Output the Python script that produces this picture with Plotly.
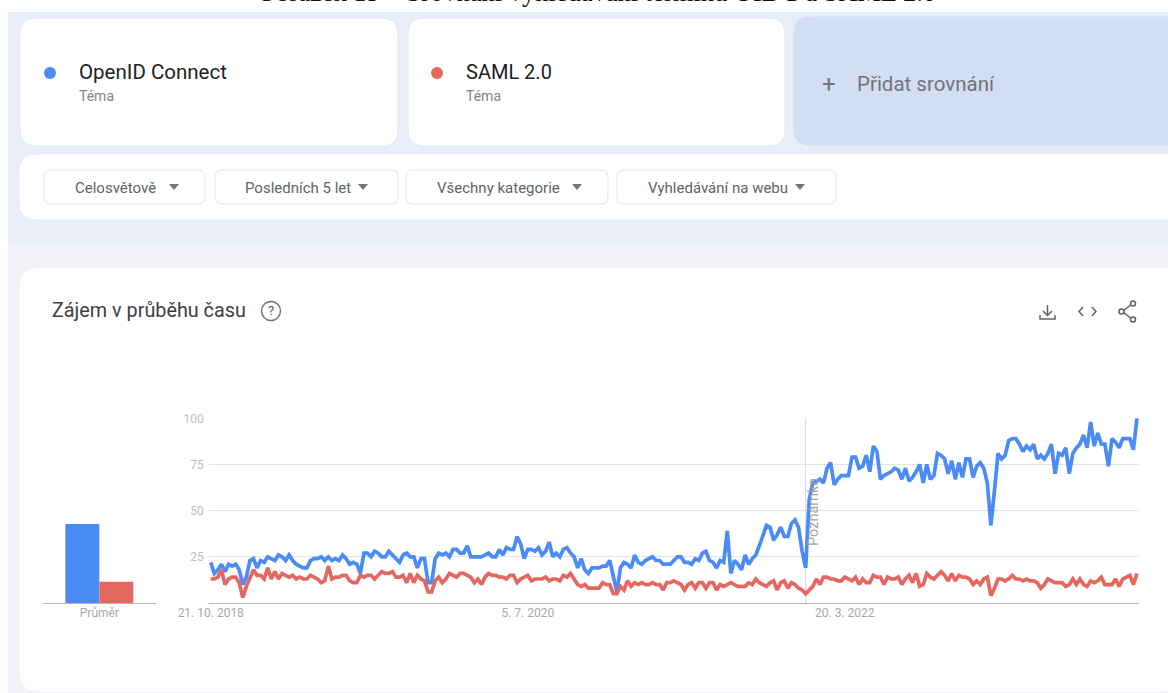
import pandas as pd
import plotly.graph_objects as go

# Weekly interest values
oidc_values = [
    22, 16, 18, 21, 17, 21, 20, 21, 18, 10,
    14, 23, 24, 19, 23, 22, 25, 24, 23, 26,
    25, 23, 26, 23, 21, 20, 19, 19, 23, 24,
    24, 25, 23, 25, 23, 24, 23, 26, 24, 21,
    22, 21, 16, 27, 27, 25, 28, 27, 25, 25,
    28, 26, 24, 22, 26, 27, 25, 25, 19, 24,
    24, 11, 11, 24, 27, 26, 27, 25, 29, 29,
    27, 27, 31, 25, 25, 25, 25, 26, 27, 25,
    25, 29, 26, 30,
    29, 29, 36, 32, 24, 29, 29, 28, 30, 26,
    28, 33, 25, 27, 25, 29, 30, 27, 25, 19,
    24, 18, 16, 19, 19, 19, 20, 20, 23, 14,
    6, 19, 22, 21, 19, 26, 22, 21, 23, 24,
    25, 23, 23, 21, 21, 21, 23, 25, 25, 22,
    22, 21, 24, 23, 27, 28, 23, 22, 19, 23,
    22, 39, 16, 23, 21, 18, 26, 21, 24, 26,
    31, 37, 42, 41, 34, 37, 41, 36, 36, 43,
    45, 41, 28, 19,
    56, 65, 66, 67,
    65, 73, 76, 64, 67, 69, 69, 69, 79, 79,
    73, 74, 80, 71, 85, 82, 67, 69, 70, 71,
    73, 72, 67, 73, 66, 68, 71, 75, 65, 75,
    67, 69, 81, 80, 78, 70, 77, 67, 76, 68,
    78, 78, 68, 74, 76, 73, 65, 42, 61, 81,
    78, 80, 88, 89, 89, 86, 82, 85, 83, 86,
    78, 80, 78, 81, 86, 70, 81, 80, 84, 70,
    81, 84, 86, 91, 84, 98, 85, 92, 86, 86,
    74, 89, 87, 84, 89, 89, 89, 83, 100,
]
saml_values = [
    13, 13, 14, 18, 10, 13, 14, 14, 11, 3,
    9, 14, 18, 15, 15, 13, 19, 13, 17, 13,
    16, 15, 14, 15, 13, 14, 13, 13, 15, 14,
    13, 11, 12, 20, 13, 14, 14, 15, 15, 12,
    11, 11, 15, 14, 15, 15, 13, 15, 17, 16,
    16, 17, 14, 14, 15, 11, 16, 11, 15, 13,
    12, 6, 6, 12, 14, 11, 13, 16, 15, 14,
    16, 16, 15, 14, 11, 13, 10, 14, 16, 15,
    15, 14, 14, 13,
    15, 15, 11, 13, 14, 15, 12, 13, 13, 13,
    14, 12, 13, 13, 12, 15, 14, 16, 13, 10,
    9, 10, 8, 8, 8, 8, 11, 10, 10, 5,
    5, 9, 7, 12, 9, 11, 10, 11, 10, 10,
    11, 10, 10, 7, 11, 11, 12, 11, 10, 7, 10,
    11, 8, 11, 11, 8, 11, 11, 7, 10, 9,
    10, 11, 10, 9, 9, 9, 11, 10, 13, 11,
    10, 9, 11, 12, 7, 11, 12, 8, 11, 10,
    8, 7, 5,
    7, 9, 13, 10,
    14, 14, 13, 13, 12, 12, 14, 13, 12, 14,
    10, 13, 11, 11, 15, 14, 14, 10, 14, 13,
    13, 14, 10, 13, 15, 11, 16, 9, 10, 16,
    14, 13, 15, 17, 15, 12, 16, 12, 15, 14,
    14, 13, 10, 12, 10, 13, 14, 4, 8, 13,
    13, 12, 13, 15, 13, 13, 12, 13, 12, 12,
    11, 8, 10, 13, 12, 11, 11, 11, 9, 10,
    13, 10, 13, 10, 9, 12, 11, 12, 14, 10,
    10, 10, 13, 9, 13, 14, 15, 10, 16,
]
average_values = [42.8, 11.5]
series_names = ['OpenID Connect', 'SAML 2.0']
filter_labels = ['Celosvětově', 'Posledních 5 let', 'Všechny kategorie', 'Vyhledávání na webu']
x_tick_dates = ['2018-10-21', '2020-07-05', '2022-03-20']
x_tick_labels = ['21. 10. 2018', '5. 7. 2020', '20. 3. 2022']
y_ticks = [25, 50, 75, 100]
note_date = '2022-01-02'

W, H = 1168, 693
BLUE = '#4B8BF6'
RED = '#E4685F'
GRID = '#E3E3E3'
TICK = '#BDBDBD'
FONT = 'Roboto'

dates = pd.date_range('2018-10-21', periods=len(oidc_values), freq='7D')


def fx(x):
    return x / W


def fy(y):
    return 1 - y / H


def pt(x, y):
    return f'{fx(x):.5f},{fy(y):.5f}'


def rounded_rect(x0, y0, x1, y1, r, fill, line=None):
    path = (
        f'M{pt(x0 + r, y0)} L{pt(x1 - r, y0)} Q{pt(x1, y0)} {pt(x1, y0 + r)} '
        f'L{pt(x1, y1 - r)} Q{pt(x1, y1)} {pt(x1 - r, y1)} '
        f'L{pt(x0 + r, y1)} Q{pt(x0, y1)} {pt(x0, y1 - r)} '
        f'L{pt(x0, y0 + r)} Q{pt(x0, y0)} {pt(x0 + r, y0)} Z'
    )
    return dict(type='path', xref='paper', yref='paper', path=path, fillcolor=fill,
                line=dict(color=line or fill, width=1), layer='below')


def rect(x0, y0, x1, y1, fill):
    return dict(type='rect', xref='paper', yref='paper', x0=fx(x0), x1=fx(x1),
                y0=fy(y0), y1=fy(y1), fillcolor=fill, line_width=0, layer='below')


def circle(cx, cy, r, fill='rgba(0,0,0,0)', line=None, width=1.5):
    return dict(type='circle', xref='paper', yref='paper', x0=fx(cx - r), x1=fx(cx + r),
                y0=fy(cy - r), y1=fy(cy + r), fillcolor=fill,
                line=dict(color=line or fill, width=width if line else 0))


def stroke(points, color='#5F6368', width=1.5):
    path = 'M' + ' L'.join(pt(x, y) for x, y in points)
    return dict(type='path', xref='paper', yref='paper', path=path,
                line=dict(color=color, width=width))


def triangle(cx, cy):
    path = f'M{pt(cx - 5, cy - 3)} L{pt(cx + 5, cy - 3)} L{pt(cx, cy + 3)} Z'
    return dict(type='path', xref='paper', yref='paper', path=path,
                fillcolor='#757575', line_width=0)


def label(x, y, text, size, color, anchor='left', family=FONT, angle=0):
    return dict(xref='paper', yref='paper', x=fx(x), y=fy(y), text=text, showarrow=False,
                xanchor=anchor, yanchor='middle', textangle=angle,
                font=dict(family=family, size=size, color=color))


# Page background and cards
shapes = [
    rect(8, 12, W, 243, '#E8EDF7'),
    rect(8, 243, W, 693, '#F1F3F8'),
    rounded_rect(20, 18, 398, 146, 16, '#FFFFFF', '#E6E8EE'),
    rounded_rect(408, 18, 785, 146, 16, '#FFFFFF', '#E6E8EE'),
    rounded_rect(794, 17, 1185, 145, 16, '#D3DDF4'),
    rounded_rect(20, 155, 1185, 219, 16, '#FFFFFF'),
    rounded_rect(20, 268, 1185, 691, 20, '#FFFFFF'),
]
annotations = [
    label(596, -7.5, 'Obrázek 15 – Srovnání vyhledávání termínu OIDC a SAML 2.0', 26.5,
          '#111111', 'center', 'Liberation Serif'),
    label(77, 72, series_names[0], 20.5, '#202124'),
    label(77, 96, 'Téma', 14, '#80868B'),
    label(464, 72, series_names[1], 20, '#202124'),
    label(464, 96, 'Téma', 14, '#80868B'),
    label(829, 84, '+', 24, '#70757A', 'center'),
    label(855, 84, 'Přidat srovnání', 20.5, '#70757A'),
    label(50, 311, 'Zájem v průběhu času', 19.8, '#3C4043'),
    label(271, 311, '?', 13, '#5F6368', 'center'),
    label(813, 512, 'Poznámka', 14.5, '#A5A5A5', 'center', angle=-90),
]

# Filter buttons
button_boxes = [(44, 205), (215, 398), (406, 608), (617, 836)]
text_x = [73, 243, 435, 646]
arrow_x = [174, 363, 577, 800]
for (x0, x1), tx, ax, name in zip(button_boxes, text_x, arrow_x, filter_labels):
    shapes.append(rounded_rect(x0, 170, x1, 204, 7, '#FFFFFF', '#E3E5EA'))
    shapes.append(triangle(ax, 187))
    annotations.append(label(tx, 187.5, name, 15, '#5F6368'))

# Legend dots and toolbar icons
shapes += [
    circle(50, 73, 6, BLUE),
    circle(437, 73, 6, RED),
    circle(271, 311, 9.5, line='#70757A'),
    stroke([(1047.5, 305), (1047.5, 315)]),
    stroke([(1043, 311), (1047.5, 315.5), (1052, 311)]),
    stroke([(1040, 315), (1040, 319), (1055, 319), (1055, 315)]),
    stroke([(1083, 307), (1079, 311.5), (1083, 316)]),
    stroke([(1092, 307), (1096, 311.5), (1092, 316)]),
    stroke([(1133, 303.5), (1122, 311.5), (1133, 319.5)]),
    circle(1133, 303.5, 2.5, '#FFFFFF', '#5F6368'),
    circle(1121.5, 311.5, 2.5, '#FFFFFF', '#5F6368'),
    circle(1133, 319.5, 2.5, '#FFFFFF', '#5F6368'),
    # note marker
    dict(type='line', xref='x', yref='y', x0=note_date, x1=note_date, y0=0, y1=100,
         line=dict(color='#D6D6D6', width=1), layer='below'),
]

fig = go.Figure()
fig.add_trace(go.Bar(x=['Průměr'], y=[average_values[0]], name=series_names[0],
                     marker=dict(color=BLUE, line_width=0), xaxis='x2', yaxis='y2'))
fig.add_trace(go.Bar(x=['Průměr'], y=[average_values[1]], name=series_names[1],
                     marker=dict(color=RED, line_width=0), xaxis='x2', yaxis='y2'))
fig.add_trace(go.Scatter(x=dates, y=oidc_values, mode='lines', name=series_names[0],
                         line=dict(color=BLUE, width=3.7, shape='linear')))
fig.add_trace(go.Scatter(x=dates, y=saml_values, mode='lines', name=series_names[1],
                         line=dict(color=RED, width=3.7, shape='linear')))

plot_top, plot_bottom = 418.3, 603
fig.update_layout(
    width=W,
    height=H,
    margin=dict(l=0, r=0, t=0, b=0, autoexpand=False),
    paper_bgcolor='#FFFFFF',
    plot_bgcolor='rgba(0,0,0,0)',
    showlegend=False,
    barmode='group',
    bargap=0.397,
    bargroupgap=0,
    shapes=shapes,
    annotations=annotations,
    font=dict(family=FONT),
    xaxis=dict(
        domain=[fx(208.7), fx(1139)],
        type='date',
        range=['2018-10-17', '2023-10-19'],
        tickmode='array',
        tickvals=x_tick_dates,
        ticktext=x_tick_labels,
        tickfont=dict(size=12, color='#A8A8A8'),
        ticks='',
        ticklabelstandoff=-1,
        showgrid=False,
        showline=True,
        linecolor='#B5B5B5',
        linewidth=1,
        zeroline=False,
    ),
    yaxis=dict(
        domain=[fy(plot_bottom), fy(plot_top)],
        range=[0, 100],
        tickmode='array',
        tickvals=y_ticks,
        tickfont=dict(size=12, color=TICK),
        ticks='',
        ticklabelstandoff=4,
        gridcolor=GRID,
        gridwidth=1,
        showline=False,
        zeroline=False,
    ),
    xaxis2=dict(
        domain=[fx(43), fx(155.7)],
        anchor='y2',
        type='category',
        tickfont=dict(size=12, color='#A8A8A8'),
        ticks='',
        ticklabelstandoff=-1,
        showgrid=False,
        showline=True,
        linecolor='#B5B5B5',
        linewidth=1,
    ),
    yaxis2=dict(
        domain=[fy(plot_bottom), fy(plot_top)],
        anchor='x2',
        range=[0, 100],
        visible=False,
    ),
)

fig.write_html(
    'out.html',
    config={'displayModeBar': False},
    post_script="document.body.style.margin='0';document.body.style.overflow='hidden';",
)
